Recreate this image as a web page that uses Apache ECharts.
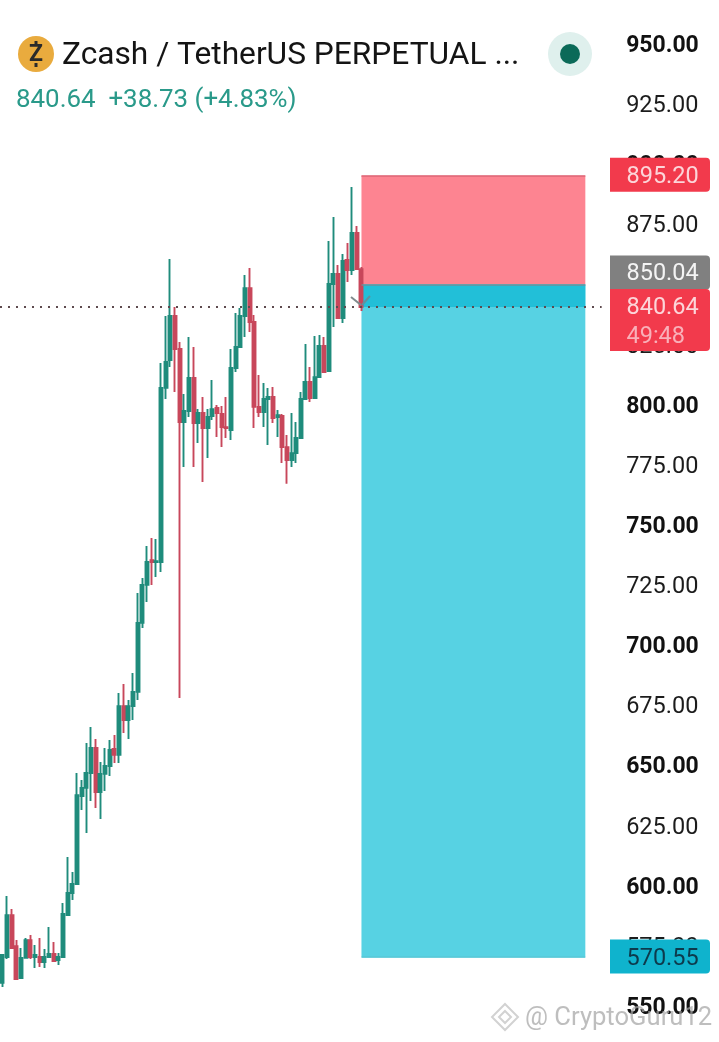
<!DOCTYPE html>
<html><head><meta charset="utf-8">
<style>html,body{margin:0;padding:0;background:#fff}#c{width:719px;height:1042px}</style>
<script src="https://cdn.jsdelivr.net/npm/echarts@6/dist/echarts.min.js"></script>
</head><body><div id="c"></div>
<script>
const opens=[559.6,570.4,587.8,574.9,561.6,570.0,577.4,570.4,570.4,568.3,570.4,571.6,569.1,570.4,587.8,597.0,600.7,637.3,640.7,646.9,657.3,639.0,646.5,649.8,656.9,654.4,674.7,668.9,674.7,680.6,709.3,725.1,735.4,734.6,734.6,807.0,818.6,836.9,823.2,792.8,797.4,811.1,792.4,796.6,790.3,795.3,798.7,796.2,790.7,789.5,815.3,824.0,836.9,848.5,834.4,799.1,797.0,802.4,803.2,794.9,795.3,782.4,777.0,779.9,786.2,802.4,809.5,802.8,811.5,824.4,814.0,850.2,854.4,836.1,860.2,856.0,871.4,856.4];
const closes=[571.2,587.8,574.1,561.2,570.0,577.4,570.4,571.2,568.3,570.4,571.6,568.7,570.4,588.3,597.0,600.7,637.7,640.7,646.9,657.3,639.0,646.5,649.8,656.5,654.4,674.7,668.9,674.7,680.6,709.3,725.1,734.6,734.6,735.0,807.0,817.8,836.9,823.2,792.8,797.4,811.1,792.4,796.6,790.3,794.9,798.2,796.6,790.7,790.3,815.3,824.0,836.9,848.5,834.4,799.1,797.0,802.4,803.2,794.5,795.7,782.4,777.0,779.9,786.2,802.4,809.5,802.8,811.5,824.4,813.6,850.2,854.4,836.1,859.8,856.0,871.4,856.4,840.64];
const lows=[557.9,569.5,573.7,561.2,561.6,570.0,569.5,565.8,566.2,565.8,570.0,568.3,567.0,570.4,587.8,594.1,600.7,631.5,621.9,635.2,632.3,627.8,639.4,645.6,651.0,651.0,663.5,661.0,668.9,677.2,707.2,718.0,725.1,728.4,730.5,802.4,815.7,805.3,678.1,774.1,794.9,774.1,784.1,767.9,777.9,793.7,786.6,782.4,786.2,785.3,813.6,824.0,828.2,830.3,790.3,794.9,790.7,783.3,792.4,786.6,775.8,767.1,774.1,775.8,786.2,802.4,801.1,802.8,811.1,813.2,814.0,832.3,836.1,834.0,851.0,853.9,856.4,839.0];
const highs=[571.6,595.7,590.3,577.4,574.1,578.3,579.5,575.4,578.3,573.7,582.8,576.6,572.0,592.8,612.0,605.7,646.9,644.0,659.4,666.0,661.0,651.5,657.3,660.6,662.7,680.1,683.9,677.2,688.5,721.7,728.0,741.3,744.6,744.2,817.4,836.9,860.6,840.6,826.1,804.5,828.2,824.0,798.2,803.2,798.2,810.3,799.9,799.5,803.2,823.2,838.2,840.2,853.9,856.9,837.3,812.4,809.0,807.0,807.4,797.8,796.2,787.4,796.6,792.8,805.3,825.3,815.7,828.6,829.0,828.2,868.1,878.1,858.1,862.7,867.3,890.5,874.3,857.3];
const barSlots=129;
const categories=Array.from({length:barSlots},(_,i)=>String(i));
const stopPrice=895.20, entryPrice=850.04, lastPrice=840.64, targetPrice=570.55;
const countdown='49:48';
const tickMin=550, tickMax=950, tickStep=25;
const titleText='Zcash / TetherUS PERPETUAL ...';
const quoteText='840.64  +38.73 (+4.83%)';
const watermark='@ CryptoGuru12';

const UP='#1f8c7c', DOWN='#c8475b';
const FONT='Roboto, sans-serif';
const zoneStart=categories[77], zoneEnd=categories[125];
const candles=opens.map((o,i)=>[o,closes[i],lows[i],highs[i]]);
const tags=[
 {price:stopPrice,text:stopPrice.toFixed(2),fill:'#f23a4c',color:'#fcd5d9',top:-18,h:34},
 {price:entryPrice,text:entryPrice.toFixed(2),fill:'#808080',color:'#f4f4f4',top:-29,h:34},
 {price:targetPrice,text:targetPrice.toFixed(2),fill:'#0fb3cd',color:'#0d3a4c',top:-17,h:34},
 {price:lastPrice,text:lastPrice.toFixed(2),sub:countdown,fill:'#f23a4c',color:'#fcd5d9',top:-18,h:62}
];
const chart=echarts.init(document.getElementById('c'),null,{renderer:'canvas'});
const logo=(cx,cy,r,w)=>({type:'polygon',shape:{points:[[cx,cy-r],[cx+r,cy],[cx,cy+r],[cx-r,cy]]},style:{fill:'none',stroke:'#d2d2d2',lineWidth:w}});
chart.setOption({
 animation:false,
 backgroundColor:'#ffffff',
 grid:{left:-3.35,right:117.34,top:44,bottom:36},
 xAxis:{type:'category',data:categories,boundaryGap:true,show:false},
 yAxis:{type:'value',min:tickMin,max:tickMax,interval:tickStep,position:'right',
  axisLine:{show:false},axisTick:{show:false},splitLine:{show:false},
  axisLabel:{show:true,margin:24.5,align:'left',color:'#161616',fontFamily:FONT,fontSize:23.5,showMinLabel:true,showMaxLabel:true,
   padding:[4,0,0,0],
   formatter:v=>v%50===0?'{b|'+v.toFixed(2)+'}':'{r|'+v.toFixed(2)+'}',
   rich:{b:{fontWeight:'bold',fontFamily:FONT,fontSize:23,color:'#111'},r:{fontFamily:FONT,fontSize:23.5,color:'#1c1c1c'}}}},
 series:[
  {type:'line',name:'zones',data:[],z:1,silent:true,
   markArea:{silent:true,data:[
    [{xAxis:zoneStart,yAxis:stopPrice,itemStyle:{color:'#fd8491'}},{xAxis:zoneEnd,yAxis:entryPrice}],
    [{xAxis:zoneStart,yAxis:entryPrice,itemStyle:{color:'#57d2e3'}},{xAxis:zoneEnd,yAxis:targetPrice}],
    [{xAxis:zoneStart,yAxis:entryPrice,itemStyle:{color:'#22bfd8'}},{xAxis:zoneEnd,yAxis:lastPrice}]
   ]},
   markLine:{silent:true,symbol:'none',label:{show:false},data:[
    [{xAxis:zoneStart,yAxis:stopPrice,lineStyle:{color:'#dd6676',width:1.5,type:'solid'}},{xAxis:zoneEnd,yAxis:stopPrice}],
    [{xAxis:zoneStart,yAxis:entryPrice,lineStyle:{color:'#6e8f9a',width:1.5,type:'solid'}},{xAxis:zoneEnd,yAxis:entryPrice}],
    [{xAxis:zoneStart,yAxis:targetPrice,lineStyle:{color:'#3cc0d2',width:1.5,type:'solid'}},{xAxis:zoneEnd,yAxis:targetPrice}],
    {yAxis:lastPrice,lineStyle:{color:'#5d4a4e',width:2,type:[2,6]}}
   ]}},
  {type:'candlestick',name:'price',data:candles,barWidth:3.5,z:3,silent:true,
   itemStyle:{color:UP,color0:DOWN,borderColor:UP,borderColor0:DOWN,borderWidth:1.9}},
  {type:'custom',name:'tags',coordinateSystem:'cartesian2d',data:tags.map(t=>[0,t.price]),z:6,silent:true,clip:false,
   renderItem:(p,api)=>{
    const t=tags[p.dataIndex];
    const y=api.coord([0,t.price])[1];
    const kids=[
     {type:'rect',shape:{x:610,y:y+t.top,width:100,height:t.h,r:[0,4,4,0]},style:{fill:t.fill}},
     {type:'text',style:{x:626.5,y:y+t.top+t.h/(t.sub?3.6:2)+2.2,text:t.text,fill:t.color,font:'23.5px '+FONT,verticalAlign:'middle'}}
    ];
    if(t.sub)kids.push({type:'text',style:{x:626.5,y:y+t.top+48,text:t.sub,fill:'#f9b0b9',font:'23.5px '+FONT,verticalAlign:'middle'}});
    return {type:'group',children:kids};
   }}
 ],
 graphic:[
  {type:'circle',shape:{cx:36,cy:54,r:18},style:{fill:'#e9ab3e'},z:10},
  {type:'text',style:{x:36,y:55,text:'Z',fill:'#2a2a2a',font:'bold 23px '+FONT,align:'center',verticalAlign:'middle'},z:11},
  {type:'rect',shape:{x:34.5,y:41,width:3,height:4},style:{fill:'#2a2a2a'},z:11},
  {type:'rect',shape:{x:34.5,y:63,width:3,height:4},style:{fill:'#2a2a2a'},z:11},
  {type:'text',style:{x:62,y:56,text:titleText,fill:'#141414',font:'31.7px '+FONT,verticalAlign:'middle'},z:10},
  {type:'text',style:{x:16,y:101,text:quoteText,fill:'#2a9a8a',font:'25.9px '+FONT,verticalAlign:'middle'},z:10},
  {type:'circle',shape:{cx:570,cy:54,r:22},style:{fill:'#dff0ed'},z:10},
  {type:'circle',shape:{cx:570,cy:54,r:10},style:{fill:'#0b6a58'},z:11},
  {type:'polyline',shape:{points:[[351,297],[361,305]]},style:{stroke:'#7f8a8c',lineWidth:2,fill:'none'},z:12},
  {type:'polyline',shape:{points:[[362,305],[370,296]]},style:{stroke:'#5f929f',lineWidth:2,fill:'none'},z:12},
  Object.assign(logo(505,1017,13,2),{z:20}),
  Object.assign(logo(505,1017,6,2),{z:20}),
  {type:'text',style:{x:525,y:1019,text:watermark,fill:'rgba(165,165,165,0.72)',font:'25.6px '+FONT,verticalAlign:'middle'},z:20}
 ]
});
</script></body></html>
